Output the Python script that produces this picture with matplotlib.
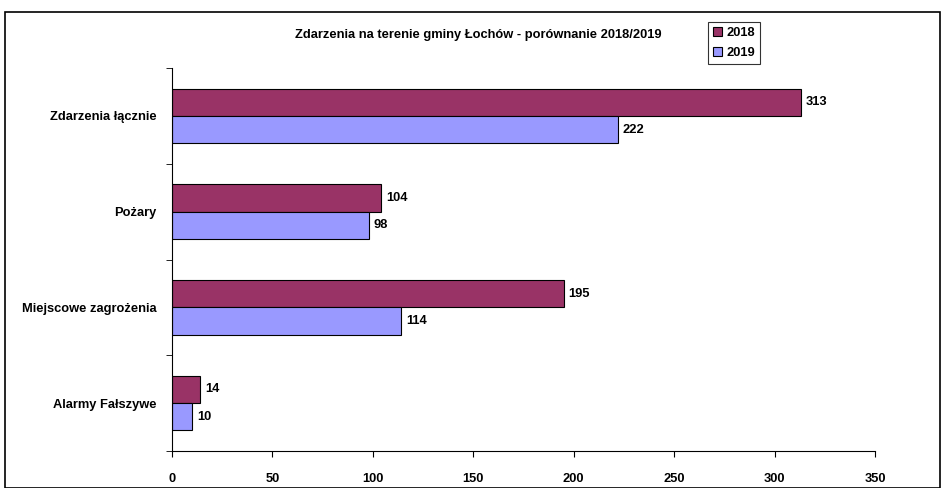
import matplotlib.pyplot as plt
import numpy as np
from matplotlib.patches import Rectangle

categories = ["Zdarzenia łącznie", "Pożary", "Miejscowe zagrożenia", "Alarmy Fałszywe"]
values_2018 = [313, 104, 195, 14]
values_2019 = [222, 98, 114, 10]
series = ["2018", "2019"]
title = "Zdarzenia na terenie gminy Łochów - porównanie 2018/2019"


def main():
    plt.rcParams["font.family"] = ["Liberation Sans", "DejaVu Sans"]
    plt.rcParams["font.weight"] = "bold"
    fs = 9.3

    fig = plt.figure(figsize=(9.42, 4.88), dpi=100)
    ax = fig.add_axes([172 / 942, 1 - 451 / 488, (875 - 172) / 942, (451 - 68) / 488])

    # outer chart border
    fig.patches.append(Rectangle((5 / 942, 0), 935 / 942, 1 - 12 / 488,
                                 transform=fig.transFigure, fill=False,
                                 edgecolor="black", linewidth=1.2))

    y = np.arange(len(categories))
    h = 0.285
    b1 = ax.barh(y - h / 2, values_2018, height=h, color="#993366",
                 edgecolor="black", linewidth=0.8, label=series[0])
    b2 = ax.barh(y + h / 2, values_2019, height=h, color="#9999FF",
                 edgecolor="black", linewidth=0.8, label=series[1])
    for bars in (b1, b2):
        for r in bars:
            ax.text(r.get_width() + 2.5, r.get_y() + r.get_height() / 2,
                    str(int(r.get_width())), va="center", ha="left",
                    fontsize=fs, fontweight="bold")

    ax.set_xlim(0, 350)
    ax.set_ylim(len(categories) - 0.5, -0.5)
    ax.set_xticks(np.arange(0, 351, 50))
    ax.set_yticks(y)
    ax.set_yticklabels(categories)
    ax.set_yticks(np.arange(-0.5, len(categories)), minor=True)
    ax.tick_params(axis="y", which="major", length=0, pad=11, labelsize=fs)
    ax.tick_params(axis="y", which="minor", length=4, direction="out")
    ax.tick_params(axis="x", length=4, direction="out", pad=12, labelsize=fs)
    for lab in ax.get_xticklabels() + ax.get_yticklabels():
        lab.set_fontweight("bold")
    ax.spines["top"].set_visible(False)
    ax.spines["right"].set_visible(False)

    fig.text(478 / 942, 1 - 35 / 488, title, ha="center", va="center",
             fontsize=fs, fontweight="bold")

    leg = ax.legend(loc="upper left", bbox_to_anchor=(708 / 942, 1 - 22 / 488),
                    bbox_transform=fig.transFigure, frameon=True, fancybox=False,
                    edgecolor="black", fontsize=fs, handlelength=0.7,
                    handleheight=0.7, handletextpad=0.3, borderpad=0.4,
                    labelspacing=0.6, borderaxespad=0)
    leg.get_frame().set_linewidth(0.8)

    fig.savefig("out.png", dpi=100)


if __name__ == "__main__":
    main()
